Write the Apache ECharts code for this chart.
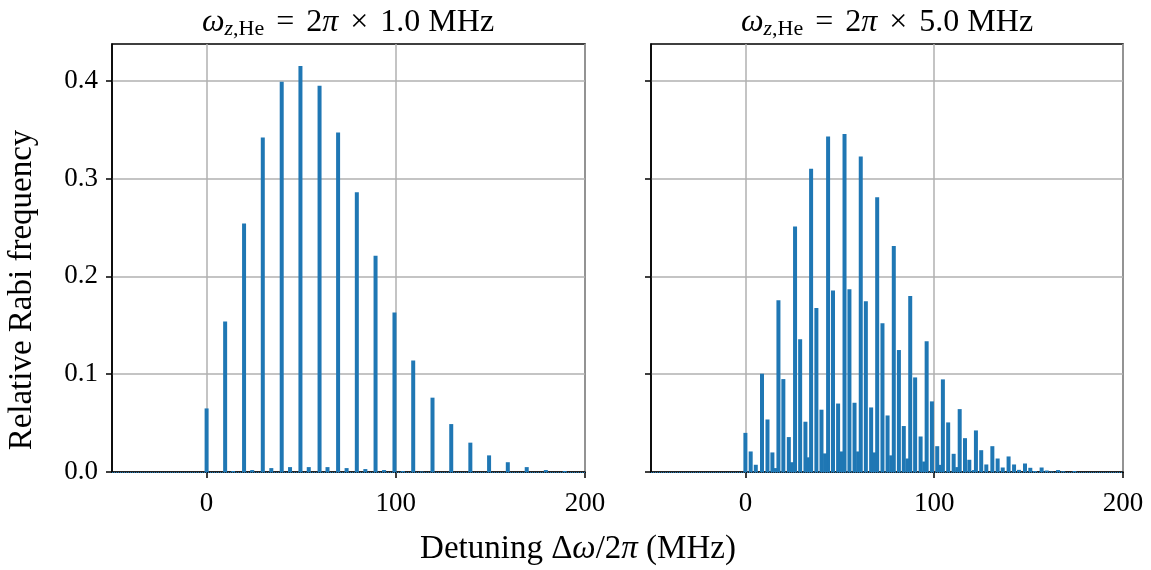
<!DOCTYPE html>
<html>
<head>
<meta charset="utf-8">
<script src="https://cdn.jsdelivr.net/npm/echarts@6/dist/echarts.min.js"></script>
<style>
html,body{margin:0;padding:0;background:#fff;}
#c{width:1151px;height:570px;}
</style>
</head>
<body>
<div id="c"></div>
<script>
// ---- Data ----
// Left panel: omega_z,He = 2pi x 1.0 MHz
var leftMainX = [0, 9.8, 19.8, 29.7, 39.7, 49.6, 59.7, 69.5, 79.4, 89.3, 99.3, 109.2, 119.4, 129.3, 139.4, 149.3, 159.2, 169.2, 179.3, 189.3];
var leftMainY = [0.065, 0.154, 0.254, 0.342, 0.399, 0.415, 0.395, 0.347, 0.286, 0.221, 0.163, 0.114, 0.076, 0.049, 0.030, 0.017, 0.010, 0.005, 0.002, 0.001];
var leftSideX = [14.0, 24.1, 34.2, 44.1, 54.0, 63.9, 74.0, 83.9, 93.8, 103.7, 113.7];
var leftSideY = [0.001, 0.002, 0.004, 0.005, 0.005, 0.005, 0.004, 0.003, 0.002, 0.001, 0.0005];

// Right panel: omega_z,He = 2pi x 5.0 MHz
var rightAX = [0, 8.8, 17.5, 26.3, 34.8, 43.8, 52.5, 61.1, 69.8, 78.6, 87.3, 96.0, 104.6, 113.5, 122.1, 130.8, 139.4, 148.1, 156.9, 165.6, 174.3];
var rightAY = [0.040, 0.1005, 0.1755, 0.251, 0.310, 0.343, 0.3455, 0.3226, 0.281, 0.231, 0.180, 0.1336, 0.0947, 0.0643, 0.0425, 0.0264, 0.0159, 0.0087, 0.0046, 0.002, 0.001];
var rightBX = [2.8, 11.7, 20.1, 29.0, 37.6, 46.4, 55.1, 63.8, 72.6, 81.3, 89.9, 98.8, 107.4, 116.3, 124.9, 133.6, 142.3, 150.9, 159.6, 168.3];
var rightBY = [0.021, 0.0537, 0.095, 0.1356, 0.1677, 0.1855, 0.1868, 0.1745, 0.152, 0.1247, 0.0967, 0.0722, 0.0507, 0.0346, 0.0223, 0.0138, 0.0077, 0.0043, 0.0015, 0.0008];
var rightCX = [5.5, 14.3, 23.0, 31.8, 40.3, 49.1, 57.8, 66.6, 75.3, 83.9, 92.8, 101.6, 110.3, 118.6, 127.6, 136.3, 144.9, 153.4, 162.1];
var rightCY = [0.0074, 0.020, 0.0357, 0.0514, 0.0637, 0.070, 0.0708, 0.066, 0.0578, 0.047, 0.0363, 0.0264, 0.0186, 0.0125, 0.0077, 0.0046, 0.0022, 0.001, 0.0005];
var rightDX = [16.1, 24.7, 33.7, 42.2, 51.1, 59.7, 68.6, 77.2, 85.9, 94.7, 103.4, 112.2, 121.1];
var rightDY = [0.004, 0.010, 0.015, 0.019, 0.021, 0.021, 0.020, 0.017, 0.0138, 0.0107, 0.0073, 0.005, 0.002];

var xTicks = [0, 100, 200];
var yTicks = [0, 0.1, 0.2, 0.3, 0.4];
var titles = ['1.0', '5.0'];

// ---- Helpers ----
function pairs(xs, ys) { return xs.map(function (x, i) { return [x, ys[i]]; }); }
function merge() {
  var out = [];
  for (var i = 0; i < arguments.length; i += 2) out = out.concat(pairs(arguments[i], arguments[i + 1]));
  return out;
}
var leftData = merge(leftMainX, leftMainY, leftSideX, leftSideY);
var rightData = merge(rightAX, rightAY, rightBX, rightBY, rightCX, rightCY, rightDX, rightDY);

var FONT = 'Liberation Serif';
var BLUE = '#1f77b4';
var TICK_FS = 27;
var LABEL_FS = 33;
var grids = [
  {left: 112, right: 566, top: 44, bottom: 98},
  {left: 651, right: 28, top: 44, bottom: 98}
];

function xAxis(idx) {
  return {
    type: 'value', gridIndex: idx, min: -50, max: 200,
    axisLine: {show: true, onZero: false, lineStyle: {color: '#000', width: 1.5}},
    axisTick: {show: true, inside: false, length: 6, lineStyle: {color: '#000', width: 1.5}, customValues: xTicks},
    axisLabel: {show: true, margin: 18, color: '#000', fontFamily: FONT, fontSize: TICK_FS, customValues: xTicks},
    splitLine: {show: true, lineStyle: {color: '#b0b0b0', width: 1.5}, customValues: xTicks}
  };
}
function yAxis(idx, labels) {
  return {
    type: 'value', gridIndex: idx, min: 0, max: 0.4376,
    axisLine: {show: true, onZero: false, lineStyle: {color: '#000', width: 1.5}},
    axisTick: {show: true, inside: false, length: 6, lineStyle: {color: '#000', width: 1.5}, customValues: yTicks},
    axisLabel: {show: labels, margin: 14, color: '#000', fontFamily: FONT, fontSize: TICK_FS, customValues: yTicks,
      formatter: function (v) { return v.toFixed(1); }},
    splitLine: {show: true, lineStyle: {color: '#b0b0b0', width: 1.5}, customValues: yTicks}
  };
}
function barSeries(idx, data) {
  return {
    type: 'bar', xAxisIndex: idx, yAxisIndex: idx, data: data, barWidth: 4,
    itemStyle: {color: BLUE}, animation: false, silent: true,
    markLine: {silent: true, symbol: 'none', label: {show: false},
      lineStyle: {color: BLUE, type: 'dotted', width: 1}, data: [{yAxis: 0}]}
  };
}
var richT = {
  i: {fontFamily: FONT, fontStyle: 'italic', fontWeight: 'normal', fontSize: 32, color: '#000'},
  n: {fontFamily: FONT, fontWeight: 'normal', fontSize: 32, color: '#000'},
  g: {fontFamily: FONT, fontWeight: 'normal', fontSize: 32, color: '#000', width: 12},
  si: {fontFamily: FONT, fontStyle: 'italic', fontWeight: 'normal', fontSize: 22, color: '#000', padding: [12, 0, 0, 0]},
  s: {fontFamily: FONT, fontWeight: 'normal', fontSize: 22, color: '#000', padding: [12, 0, 0, 0]}
};
function titleText(v) {
  return '{i|ω}{si|z}{s|,He}{g|}{n|=}{g|}{n|2}{i|π}{g|}{n|×}{g|}{n|' + v + ' MHz}';
}

var chart = echarts.init(document.getElementById('c'), null, {renderer: 'canvas'});
chart.setOption({
  animation: false,
  backgroundColor: '#fff',
  grid: grids.map(function (g) { return Object.assign({show: true, borderColor: '#000', borderWidth: 1.5, backgroundColor: 'transparent'}, g); }),
  title: [
    {text: titleText(titles[0]), left: 343, top: 1, textAlign: 'center', textStyle: {fontWeight: 'normal', rich: richT}},
    {text: titleText(titles[1]), left: 882, top: 1, textAlign: 'center', textStyle: {fontWeight: 'normal', rich: richT}}
  ],
  xAxis: [xAxis(0), xAxis(1)],
  yAxis: [yAxis(0, true), yAxis(1, false)],
  series: [barSeries(0, leftData), barSeries(1, rightData)],
  graphic: [
    {type: 'text', x: 578, y: 549, style: {text: 'Detuning Δ{i|ω}/2{i|π} (MHz)', fontFamily: FONT, fontSize: LABEL_FS, fill: '#000', align: 'center', verticalAlign: 'middle',
      rich: {i: {fontFamily: FONT, fontStyle: 'italic', fontSize: LABEL_FS}}}},
    {type: 'text', x: 22, y: 290, rotation: Math.PI / 2, style: {text: 'Relative Rabi frequency', fontFamily: FONT, fontSize: LABEL_FS, fill: '#000', align: 'center', verticalAlign: 'middle'}}
  ]
});
</script>
</body>
</html>
